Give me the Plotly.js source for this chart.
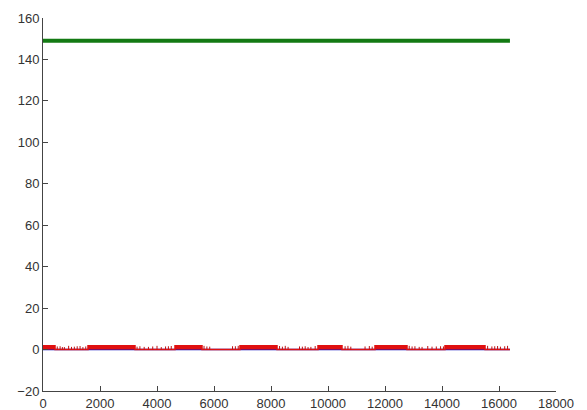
<!DOCTYPE html>
<html>
<head>
<meta charset="utf-8">
<script src="https://cdn.plot.ly/plotly-3.0.1.min.js"></script>
<style>html,body{margin:0;padding:0;background:#fff;}#chart{width:587px;height:410px;}</style>
</head>
<body>
<div id="chart"></div>
<script>
// Green constant series
const greenX = [0, 16384];
const greenY = [149, 149];
// Blue baseline series
const blueX = [0, 16384];
const blueY = [0, 0];
// Red dense signal: envelope level per interval (step 'hv')
const redX = [0, 421, 1579, 3228, 4632, 5579, 6912, 8211, 9649, 10491, 11649, 12772, 14105, 15509, 16384];
const redY = [1.8, 0, 1.8, 0, 1.8, 0, 1.8, 0, 1.8, 0, 1.8, 0, 1.8, 0, 0];
// Red isolated spikes within the quieter stretches
const spikeX = [500, 600, 680, 750, 900, 1000, 1100, 1200, 1300, 1400, 1500,
                3300, 3400, 3550, 3700, 3850, 4000, 4150, 4300, 4400, 4500,
                5650, 5750, 5850, 6650, 6750, 6850,
                8300, 8400, 8500, 8600, 9000, 9100, 9200, 9300, 9400, 9550,
                10600, 10700, 10800, 11300, 11450, 11550,
                12850, 12950, 13050, 13200, 13300, 13500, 13650, 13800, 13950, 14050,
                15600, 15750, 15850, 15950, 16050, 16200, 16300];
const spikeH = [1.5, 1.6, 1.2, 1.2, 1.8, 1.3, 1.4, 1.6, 1.7, 1.2, 1.5,
                1.4, 1.6, 1.3, 1.3, 1.5, 1.8, 1.2, 1.5, 1.6, 1.7,
                1.8, 1.5, 1.4, 1.6, 1.6, 1.8,
                1.7, 1.4, 1.8, 1.3, 1.5, 1.4, 1.6, 1.2, 1.3, 1.7,
                1.6, 1.8, 1.4, 1.5, 1.7, 1.4,
                1.8, 1.5, 1.6, 1.3, 1.3, 1.7, 1.4, 1.5, 1.6, 1.5,
                1.8, 1.5, 1.6, 1.7, 1.4, 1.6, 1.8];

const sx = [], sy = [];
spikeX.forEach((x, i) => { sx.push(x, x, null); sy.push(0, spikeH[i], null); });

const traces = [
  {x: blueX, y: blueY, mode: 'lines', line: {color: '#1010c0', width: 1.5}, hoverinfo: 'skip'},
  {x: redX, y: redY, mode: 'lines', line: {color: '#e01010', width: 1.5, shape: 'hv'},
   fill: 'tozeroy', fillcolor: '#e01010', hoverinfo: 'skip'},
  {x: sx, y: sy, mode: 'lines', line: {color: '#c01010', width: 1}, hoverinfo: 'skip'},
  {x: greenX, y: greenY, mode: 'lines', line: {color: '#137a13', width: 4}, hoverinfo: 'skip'}
];

const axisCommon = {
  showgrid: false, zeroline: false, showline: true, linecolor: '#444', linewidth: 1,
  ticks: 'inside', ticklen: 5, tickcolor: '#444',
  tickfont: {family: 'Liberation Sans, Arial, sans-serif', size: 13, color: '#333'},
  tickformat: 'd', mirror: false
};

const layout = {
  width: 587, height: 410,
  margin: {l: 43, r: 31, t: 18, b: 19},
  paper_bgcolor: '#fff', plot_bgcolor: '#fff',
  showlegend: false,
  xaxis: Object.assign({}, axisCommon, {range: [0, 18000], tickmode: 'linear', tick0: 0, dtick: 2000}),
  yaxis: Object.assign({}, axisCommon, {range: [-20, 160], tickmode: 'linear', tick0: -20, dtick: 20})
};

Plotly.newPlot('chart', traces, layout, {staticPlot: true, displayModeBar: false});
</script>
</body>
</html>
